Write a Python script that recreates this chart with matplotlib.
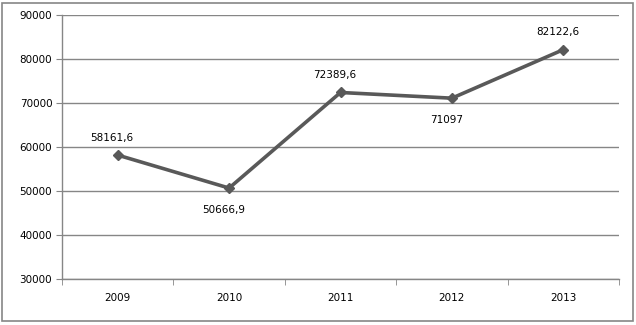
import matplotlib
matplotlib.use("Agg")
import matplotlib.pyplot as plt
from matplotlib.patches import Rectangle

years = ["2009", "2010", "2011", "2012", "2013"]
values = [58161.6, 50666.9, 72389.6, 71097, 82122.6]
labels = ["58161,6", "50666,9", "72389,6", "71097", "82122,6"]
label_above = [True, False, True, False, True]

plt.rcParams['font.family'] = ['DejaVu Sans']

fig = plt.figure(figsize=(6.36, 3.25), dpi=100)
ax = fig.add_axes([62/636, 1 - 279/325, (619-62)/636, (279-15)/325])

grid_c = "#868686"
line_c = "#595959"

x = list(range(len(years)))
ax.plot(x, values, color=line_c, lw=2.6, marker="D", markersize=5.5,
        markerfacecolor=line_c, markeredgecolor=line_c, zorder=3)

for xi, v, lab, up in zip(x, values, labels, label_above):
    ax.annotate(lab, (xi, v), xytext=(-4, 12.5 if up else -16), textcoords="offset points",
                ha="center", va="center", fontsize=7.5, color="black")

ax.set_xlim(-0.5, len(years) - 0.5)
ax.set_ylim(30000, 90000)
ax.set_yticks(range(30000, 90001, 10000))
ax.set_yticklabels([str(t) for t in range(30000, 90001, 10000)], fontsize=7.5)
ax.set_xticks(x)
ax.set_xticklabels(years, fontsize=7.5)
ax.set_xticks([i - 0.5 for i in range(len(years) + 1)], minor=True)
ax.tick_params(axis="x", which="major", length=0, pad=10)
ax.tick_params(axis="x", which="minor", length=4, color=grid_c, direction="out")
ax.tick_params(axis="y", length=4, color=grid_c, pad=3)

ax.grid(axis="y", color=grid_c, lw=1)
ax.set_axisbelow(True)
for s in ["top", "right"]:
    ax.spines[s].set_visible(False)
for s in ["left", "bottom"]:
    ax.spines[s].set_color(grid_c)
    ax.spines[s].set_linewidth(1)

fig.patches.append(Rectangle((2/636, 1 - 321/325), (633-2)/636, (321-3)/325,
                             transform=fig.transFigure, fill=False,
                             edgecolor="#868686", lw=1.2))

fig.savefig("out.png", dpi=100)
